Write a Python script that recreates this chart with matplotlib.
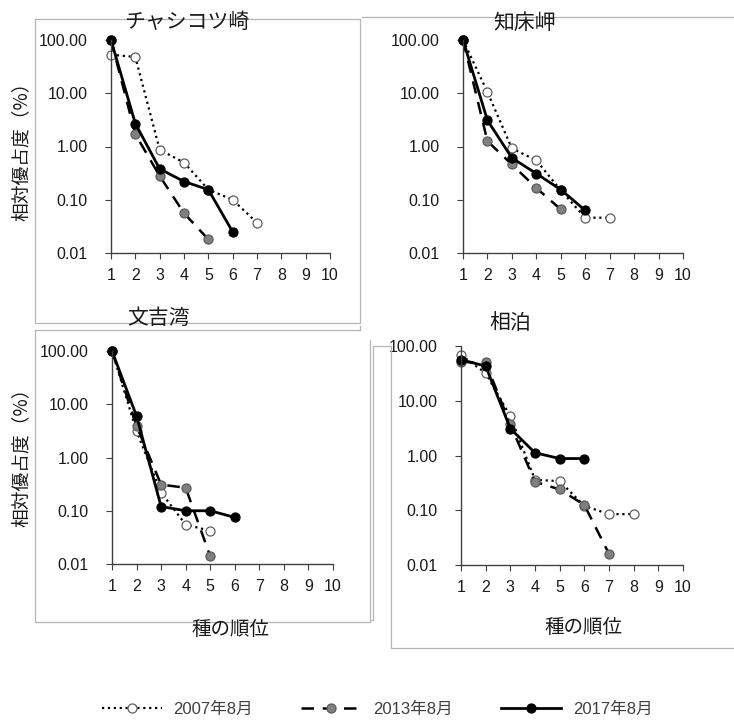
import numpy as np
import matplotlib
matplotlib.use("Agg")
import matplotlib.pyplot as plt
from matplotlib.lines import Line2D

plt.rcParams['font.family'] = ['Liberation Sans', 'Noto Sans CJK JP', 'DejaVu Sans']

W, H = 734, 720

sites = ['チャシコツ崎', '知床岬', '文吉湾', '相泊']
years = ['2007年8月', '2013年8月', '2017年8月']

# relative dominance (%) by species rank
chasikotsu_2007 = [53, 48, 0.87, 0.5, 0.155, 0.1, 0.037]
chasikotsu_2013 = [100, 1.7, 0.28, 0.056, 0.018]
chasikotsu_2017 = [100, 2.7, 0.38, 0.22, 0.155, 0.025]

shiretoko_2007 = [100, 10.5, 0.92, 0.55, 0.15, 0.046, 0.046]
shiretoko_2013 = [100, 1.26, 0.46, 0.166, 0.066]
shiretoko_2017 = [100, 3.1, 0.61, 0.31, 0.155, 0.063]

bunkichi_2007 = [100, 3.1, 0.22, 0.055, 0.042]
bunkichi_2013 = [100, 3.9, 0.31, 0.27, 0.014]
bunkichi_2017 = [100, 6.0, 0.12, 0.1, 0.1, 0.075]

aidomari_2007 = [68, 32, 5.2, 0.36, 0.34, 0.12, 0.085, 0.085]
aidomari_2013 = [51, 50, 3.7, 0.33, 0.24, 0.125, 0.016]
aidomari_2017 = [56, 43, 3.1, 1.12, 0.88, 0.88]

site_data = [
    (chasikotsu_2007, chasikotsu_2013, chasikotsu_2017),
    (shiretoko_2007, shiretoko_2013, shiretoko_2017),
    (bunkichi_2007, bunkichi_2013, bunkichi_2017),
    (aidomari_2007, aidomari_2013, aidomari_2017),
]

ytick_vals = [0.01, 0.1, 1, 10, 100]
ytick_labels = ['0.01', '0.10', '1.00', '10.00', '100.00']
xtick_vals = list(range(1, 11))

styles = [
    dict(color='black', ls=':', lw=1.6, marker='o', ms=6.5, mfc='white', mec='#606060', mew=0.9),
    dict(color='black', ls=(0, (5, 3.5)), lw=1.8, marker='o', ms=6.5, mfc='#808080', mec='#5a5a5a', mew=0.9),
    dict(color='black', ls='-', lw=2.0, marker='o', ms=6.5, mfc='black', mec='black', mew=0.9),
]

# axes boxes in pixels: left, top, right, bottom
boxes = [(111, 40, 330, 253), (463, 40, 683, 253), (112, 351, 333, 564), (461, 346, 683, 565)]
title_pos = [(187, 22), (525, 23), (158, 318), (510, 323)]


def frac(l, t, r, b):
    return [l / W, 1 - b / H, (r - l) / W, (b - t) / H]


fig = plt.figure(figsize=(W / 100, H / 100), dpi=100)

# light frames around panels
frame = '#b5b5b5'
fig.add_artist(Line2D([35 / W, 360 / W, 360 / W, 35 / W, 35 / W],
                      [1 - 19 / H, 1 - 19 / H, 1 - 323 / H, 1 - 323 / H, 1 - 19 / H],
                      color=frame, lw=0.9))
fig.add_artist(Line2D([362 / W, 734 / W], [1 - 17 / H, 1 - 17 / H], color=frame, lw=0.9))
fig.add_artist(Line2D([35 / W, 360 / W, 360 / W], [1 - 330 / H, 1 - 330 / H, 1 - 326 / H],
                      color=frame, lw=0.9))
fig.add_artist(Line2D([35 / W, 35 / W, 370 / W, 370 / W], [1 - 330 / H, 1 - 622 / H, 1 - 622 / H, 1 - 340 / H],
                      color=frame, lw=0.9))
fig.add_artist(Line2D([370 / W, 373 / W, 373 / W, 391 / W], [1 - 620 / H, 1 - 620 / H, 1 - 346 / H, 1 - 346 / H],
                      color=frame, lw=0.9))
fig.add_artist(Line2D([391 / W, 391 / W, 734 / W], [1 - 346 / H, 1 - 648 / H, 1 - 648 / H],
                      color=frame, lw=0.9))

handles = []
for i, (box, series) in enumerate(zip(boxes, site_data)):
    ax = fig.add_axes(frac(*box))
    ax.patch.set_alpha(0)
    for vals, st, lab in zip(series, styles, years):
        x = np.arange(1, len(vals) + 1)
        ln, = ax.plot(x, vals, label=lab, clip_on=False, **st)
        if i == 0:
            handles.append(ln)
    ax.set_yscale('log')
    ax.set_ylim(0.01, 100)
    ax.set_xlim(1, 10)
    ax.set_yticks(ytick_vals)
    ax.set_yticklabels(ytick_labels)
    ax.minorticks_off()
    ax.set_xticks(xtick_vals)
    for s in ['top', 'right']:
        ax.spines[s].set_visible(False)
    for s in ['left', 'bottom']:
        ax.spines[s].set_color('#404040')
        ax.spines[s].set_linewidth(1.0)
    ax.tick_params(axis='y', length=4, pad=13, labelsize=11.5, colors='#404040', labelcolor='#1a1a1a')
    ax.tick_params(axis='x', length=4, pad=7, labelsize=11.5, colors='#404040', labelcolor='#1a1a1a')
    tx, ty = title_pos[i]
    fig.text(tx / W, 1 - ty / H, sites[i], ha='center', va='center', fontsize=15, color='#1a1a1a')

ylab = '相対優占度（%）'
fig.text(21 / W, 1 - 147 / H, ylab, rotation=90, ha='center', va='center', fontsize=13.5,
         color='#1a1a1a', family=['Noto Sans CJK JP', 'DejaVu Sans'])
fig.text(21 / W, 1 - 453 / H, ylab, rotation=90, ha='center', va='center', fontsize=13.5,
         color='#1a1a1a', family=['Noto Sans CJK JP', 'DejaVu Sans'])
fig.text(230 / W, 1 - 630 / H, '種の順位', ha='center', va='center', fontsize=14, color='#1a1a1a')
fig.text(583 / W, 1 - 628 / H, '種の順位', ha='center', va='center', fontsize=14, color='#1a1a1a')

leg = fig.legend(handles, years, loc='center', bbox_to_anchor=(377 / W, 1 - 709 / H), ncol=3,
                 frameon=False, handlelength=3.6, columnspacing=2.9, handletextpad=0.7, fontsize=12)
for t in leg.get_texts():
    t.set_color('#404040')

fig.savefig('out.png', dpi=100)
